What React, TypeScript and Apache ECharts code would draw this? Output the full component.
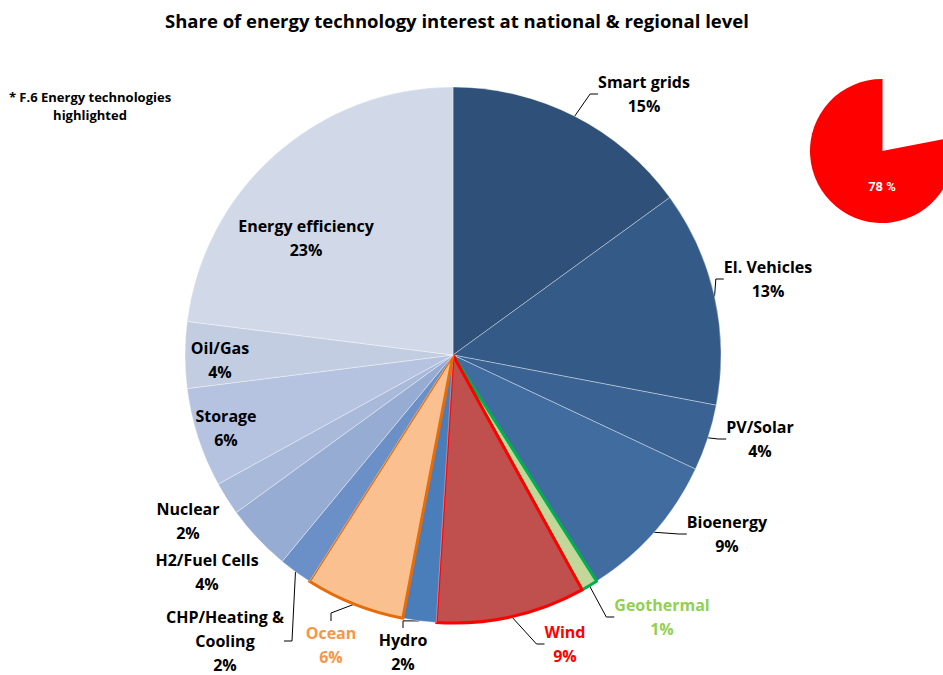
import React, { useEffect, useRef } from "react";
import * as echarts from "echarts";

const categories = [
  "Smart grids",
  "El. Vehicles",
  "PV/Solar",
  "Bioenergy",
  "Geothermal",
  "Wind",
  "Hydro",
  "Ocean",
  "CHP/Heating & Cooling",
  "H2/Fuel Cells",
  "Nuclear",
  "Storage",
  "Oil/Gas",
  "Energy efficiency",
];
const shares = [15, 13, 4, 9, 1, 9, 2, 6, 2, 4, 2, 6, 4, 23];
const highlightShare = [78];

const colors = [
  "#2F5078", "#345A87", "#3A6394", "#416CA0", "#C4D79B", "#C0504D", "#4A7EBB",
  "#FAC090", "#6B8FC7", "#97ACD3", "#A9B9D9", "#B5C3E0", "#C3CDE1", "#D1D8E7",
];
const borders: Record<string, string> = {
  Geothermal: "#00B050",
  Wind: "#FF0000",
  Ocean: "#E46C0A",
};
const labelColors: Record<string, string> = {
  Geothermal: "#92D050",
  Wind: "#FF0000",
  Ocean: "#F79646",
};
const labelText: Record<string, string> = {
  "CHP/Heating & Cooling": "CHP/Heating &\nCooling",
};
// label centre positions (px)
const labelPos = [
  [644, 94], [768, 279], [760, 439], [727, 534], [662, 617], [565, 644], [403, 652],
  [331, 645], [225, 641], [207, 572], [188, 521], [226, 428], [220, 360], [306, 238],
];
const noLine = ["Nuclear", "H2/Fuel Cells", "Storage", "Oil/Gas", "Energy efficiency"];

const FONT = "'Open Sans', Lato, sans-serif";

export default function App() {
  const ref = useRef<HTMLDivElement>(null);
  useEffect(() => {
    if (!ref.current) return;
    const chart = echarts.init(ref.current, undefined, { renderer: "svg" });
    const data = categories.map((name, i) => ({
      name,
      value: shares[i],
      itemStyle: {
        color: colors[i],
        borderColor: borders[name] || "rgba(255,255,255,0.45)",
        borderWidth: borders[name] ? 3 : 0.8,
      },
      label: { color: labelColors[name] || "#000" },
      labelLine: { show: !noLine.includes(name) },
    }));
    chart.setOption({
      animation: false,
      backgroundColor: "#fff",
      title: {
        text: "Share of energy technology interest at national & regional level",
        left: 160,
        top: 6,
        textStyle: { fontFamily: FONT, fontWeight: "bold", fontSize: 18.5, color: "#000" },
      },
      graphic: [
        {
          type: "text",
          x: 90,
          y: 88,
          style: {
            text: "* F.6 Energy technologies\nhighlighted",
            fontFamily: FONT,
            fontWeight: "bold",
            fontSize: 13,
            lineHeight: 18,
            fill: "#000",
            align: "center",
          } as any,
        },
      ],
      series: [
        {
          type: "pie",
          center: [453, 355],
          radius: 268,
          startAngle: 90,
          clockwise: true,
          silent: true,
          data,
          label: {
            show: true,
            formatter: (p: any) => `${labelText[p.name] || p.name}\n${p.value}%`,
            fontFamily: FONT,
            fontWeight: "bold",
            fontSize: 16,
            lineHeight: 24,
            align: "center",
          },
          labelLine: { show: true, lineStyle: { color: "#000", width: 1 }, length: 10, length2: 8 },
          labelLayout: (p: any) => ({
            x: labelPos[p.dataIndex][0],
            y: labelPos[p.dataIndex][1],
            align: "center",
            verticalAlign: "middle",
          }),
        },
        {
          type: "pie",
          center: [882, 151],
          radius: 72,
          startAngle: 90,
          clockwise: true,
          silent: true,
          data: [
            { name: "rest", value: 100 - highlightShare[0], itemStyle: { color: "transparent" }, label: { show: false } },
            { name: "highlight", value: highlightShare[0], itemStyle: { color: "#FF0000" } },
          ],
          label: {
            show: true,
            position: "inside",
            formatter: (p: any) => `${p.value} %`,
            color: "#fff",
            fontWeight: "bold",
            fontSize: 13,
            fontFamily: "Roboto, sans-serif",
          },
          labelLayout: (p: any) =>
            p.dataIndex === 1 ? { x: 882, y: 186, align: "center", verticalAlign: "middle" } : {},
        },
      ],
    });
    return () => chart.dispose();
  }, []);
  return (
    <div
      ref={ref}
      style={{ position: "fixed", left: 0, top: 0, width: 943, height: 675 }}
    />
  );
}
